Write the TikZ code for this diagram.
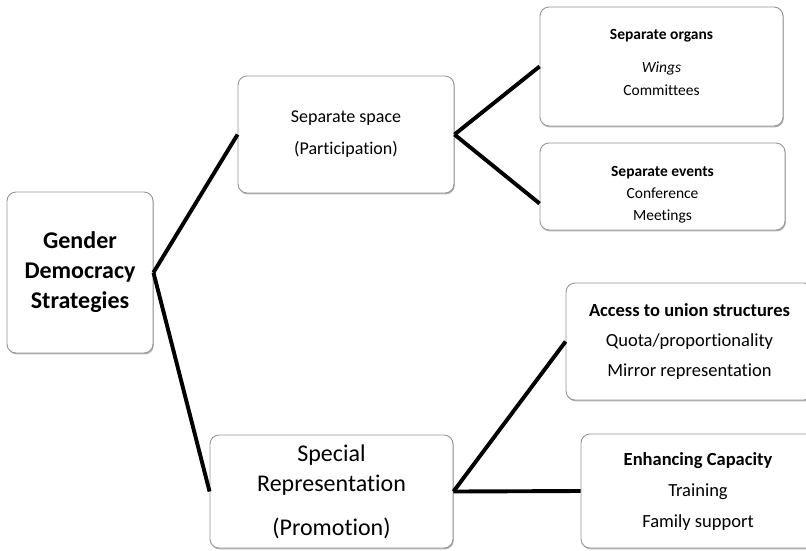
\documentclass[tikz,border=0pt]{standalone}
\usepackage{fontspec}
\setmainfont{Carlito}[Ligatures=NoCommon]
\usepackage{tikz}
\usetikzlibrary{shadows}
\definecolor{boxgray}{RGB}{150,150,150}

\begin{document}
\begin{tikzpicture}[x=1pt, y=-1pt,
        box/.style={rectangle, rounded corners=9pt, draw=boxgray, fill=white, line width=0.9pt, align=center, inner sep=0pt,
            drop shadow={shadow xshift=0.8pt, shadow yshift=-1.4pt, fill=black!50, opacity=0.6}},
        link/.style={line width=3.9pt, black, line join=round}
    ]
        \useasboundingbox (0,0) rectangle (806,550);
        \clip (0,0) rectangle (806,550);

        % Nodes
        \node (root) [box, minimum width=146pt, minimum height=161pt, font=\fontsize{24}{30}\selectfont\bfseries] at (80,272.5) {Gender\\Democracy\\Strategies};
        \node (space) [box, minimum width=216pt, minimum height=117pt, font=\fontsize{18}{32}\selectfont] at (346,134.5) {Separate space\\(Participation)};
        \node (special) [box, minimum width=243pt, minimum height=113pt, font=\fontsize{24}{30}\selectfont] at (331.5,491.5) {Special\\Representation\\[14pt](Promotion)};
        \node (organs) [box, minimum width=243pt, minimum height=119pt, font=\fontsize{15.5}{23}\selectfont] at (661.5,66.5) {\textbf{Separate organs}\\[10pt]\textit{Wings}\\Committees\rule[-9pt]{0pt}{9pt}};
        \node (events) [box, minimum width=245pt, minimum height=87pt, font=\fontsize{15.5}{22}\selectfont] at (662.5,186.5) {\rule{0pt}{27pt}\textbf{Separate events}\\Conference\\Meetings};
        \node (access) [box, minimum width=247pt, minimum height=117pt, font=\fontsize{18.5}{30}\selectfont] at (689.5,341.5) {\textbf{Access to union structures}\\Quota/proportionality\\Mirror representation};
        \node (enhance) [box, minimum width=234pt, minimum height=114pt, font=\fontsize{18.5}{31}\selectfont] at (698,491) {\textbf{Enhancing Capacity}\\Training\\Family support};

        % Links
        \draw [link] (root.east) -- (space.west);
        \draw [link] (root.east) -- (special.west);
        \draw [link] (space.east) -- (organs.west);
        \draw [link] (space.east) -- ([yshift=-17pt]events.west);
        \draw [link] (special.east) -- (access.west);
        \draw [link] (special.east) -- (enhance.west);

    \end{tikzpicture}
\end{document}
